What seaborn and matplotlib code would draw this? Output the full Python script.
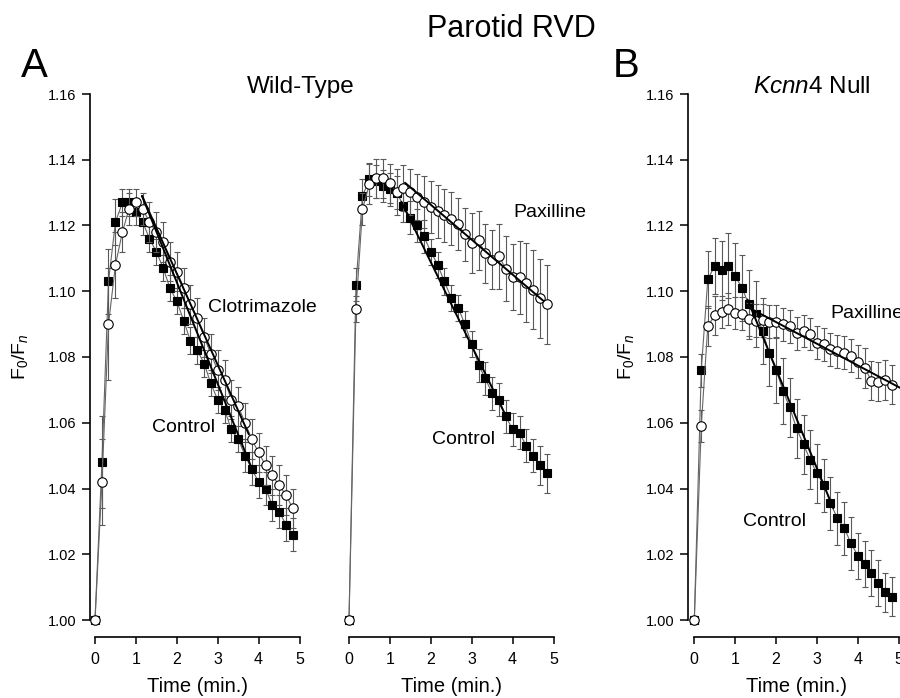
import numpy as np
import pandas as pd
import seaborn as sns
import matplotlib.pyplot as plt

# time points (min), one every 10 s
time_min = [0.00, 0.17, 0.33, 0.50, 0.67, 0.83, 1.00, 1.17, 1.33, 1.50,
            1.67, 1.83, 2.00, 2.17, 2.33, 2.50, 2.67, 2.83, 3.00, 3.17,
            3.33, 3.50, 3.67, 3.83, 4.00, 4.17, 4.33, 4.50, 4.67, 4.83]

# panel A, left: wild-type control vs clotrimazole
wt_ctrl1 = [1.000, 1.048, 1.103, 1.121, 1.127, 1.127, 1.124, 1.121, 1.116, 1.112,
            1.107, 1.101, 1.097, 1.091, 1.085, 1.082, 1.078, 1.072, 1.067, 1.064,
            1.058, 1.055, 1.050, 1.046, 1.042, 1.040, 1.035, 1.033, 1.029, 1.026]
wt_ctrl1_err = [0, 0.014, 0.010, 0.007, 0.004, 0.004, 0.004, 0.004, 0.004, 0.004,
                0.004, 0.004, 0.004, 0.004, 0.004, 0.004, 0.004, 0.004, 0.004, 0.004,
                0.004, 0.004, 0.005, 0.005, 0.005, 0.005, 0.005, 0.005, 0.005, 0.005]
wt_clot = [1.000, 1.042, 1.090, 1.108, 1.118, 1.125, 1.127, 1.125, 1.121, 1.118,
           1.115, 1.109, 1.106, 1.101, 1.096, 1.092, 1.086, 1.081, 1.076, 1.073,
           1.067, 1.065, 1.060, 1.055, 1.051, 1.047, 1.044, 1.041, 1.038, 1.034]
wt_clot_err = [0, 0.013, 0.017, 0.010, 0.006, 0.005, 0.004, 0.005, 0.006, 0.006,
               0.006, 0.006, 0.006, 0.006, 0.006, 0.006, 0.006, 0.006, 0.006, 0.006,
               0.006, 0.006, 0.006, 0.006, 0.006, 0.006, 0.006, 0.006, 0.006, 0.006]
fit_ctrl1 = ([1.15, 3.83], [1.129, 1.0462])
fit_clot = ([1.15, 3.76], [1.129, 1.0565])

# panel A, right: wild-type control vs paxilline
wt_ctrl2 = [1.000, 1.102, 1.129, 1.134, 1.1335, 1.132, 1.131, 1.130, 1.126, 1.1224,
            1.120, 1.1167, 1.112, 1.108, 1.103, 1.098, 1.095, 1.090, 1.084, 1.0775,
            1.0735, 1.069, 1.067, 1.062, 1.058, 1.057, 1.053, 1.050, 1.047, 1.0446]
wt_ctrl2_err = [0, 0.005, 0.005, 0.005, 0.005, 0.005, 0.005, 0.005, 0.005, 0.005,
                0.005, 0.005, 0.004, 0.004, 0.004, 0.004, 0.004, 0.004, 0.004, 0.005,
                0.005, 0.005, 0.005, 0.005, 0.005, 0.005, 0.005, 0.005, 0.006, 0.006]
wt_pax = [1.000, 1.0945, 1.125, 1.1326, 1.1343, 1.1343, 1.1328, 1.1302, 1.1315, 1.1302,
          1.1287, 1.1272, 1.1256, 1.1243, 1.1231, 1.1221, 1.1204, 1.1173, 1.1147, 1.1155,
          1.1115, 1.1096, 1.1106, 1.1069, 1.1044, 1.1042, 1.1026, 1.1005, 1.0978, 1.0961]
wt_pax_err = [0, 0.004, 0.005, 0.006, 0.006, 0.006, 0.006, 0.007, 0.007, 0.007,
              0.007, 0.008, 0.008, 0.008, 0.008, 0.008, 0.008, 0.008, 0.009, 0.009,
              0.009, 0.009, 0.010, 0.010, 0.010, 0.011, 0.012, 0.012, 0.012, 0.012]
fit_ctrl2 = ([1.28, 3.80], [1.1272, 1.063])
fit_pax = ([1.37, 4.76], [1.133, 1.097])

# panel B: Kcnn4 null control vs paxilline
ko_ctrl = [1.000, 1.076, 1.1036, 1.1078, 1.1064, 1.1078, 1.1046, 1.101, 1.096, 1.093,
           1.088, 1.0811, 1.076, 1.0697, 1.0647, 1.0583, 1.0534, 1.0488, 1.0446, 1.041,
           1.0355, 1.0309, 1.0279, 1.0233, 1.0196, 1.017, 1.0142, 1.0112, 1.0084, 1.0071]
ko_ctrl_err = [0, 0.005, 0.0087, 0.0085, 0.009, 0.010, 0.010, 0.010, 0.0105, 0.010,
               0.010, 0.010, 0.010, 0.010, 0.009, 0.009, 0.009, 0.009, 0.009, 0.008,
               0.008, 0.008, 0.008, 0.008, 0.007, 0.007, 0.007, 0.007, 0.006, 0.006]
ko_pax = [1.000, 1.059, 1.0894, 1.0927, 1.0937, 1.0946, 1.0934, 1.0932, 1.0915, 1.091,
          1.0912, 1.0907, 1.0907, 1.090, 1.0894, 1.0872, 1.0879, 1.087, 1.0843, 1.0839,
          1.0824, 1.0818, 1.0813, 1.0804, 1.0786, 1.0766, 1.0728, 1.0725, 1.073, 1.0716]
ko_pax_err = [0, 0.005, 0.006, 0.006, 0.005, 0.005, 0.005, 0.005, 0.005, 0.005,
              0.005, 0.005, 0.005, 0.005, 0.005, 0.005, 0.005, 0.005, 0.005, 0.005,
              0.005, 0.005, 0.005, 0.005, 0.005, 0.006, 0.006, 0.006, 0.006, 0.006]
fit_ko_ctrl = ([1.30, 3.40], [1.0975, 1.034])
fit_ko_pax = ([1.29, 5.05], [1.0953, 1.0705])

y_ticks = [1.00, 1.02, 1.04, 1.06, 1.08, 1.10, 1.12, 1.14, 1.16]
x_ticks = [0, 1, 2, 3, 4, 5]

sns.set_style("ticks")
plt.rcParams['font.family'] = ['Liberation Sans', 'DejaVu Sans']
plt.rcParams['mathtext.fontset'] = 'custom'
plt.rcParams['mathtext.rm'] = 'Liberation Sans'
plt.rcParams['mathtext.it'] = 'Liberation Sans:italic'
plt.rcParams['text.color'] = 'black'
plt.rcParams['axes.labelcolor'] = 'black'
plt.rcParams['axes.edgecolor'] = 'black'
plt.rcParams['xtick.color'] = 'black'
plt.rcParams['ytick.color'] = 'black'

W, H = 900, 698
fig = plt.figure(figsize=(W / 100, H / 100), dpi=100)

PX_MIN = 40.9          # pixels per minute
PX_UNIT = 65.75 / 0.02  # pixels per F0/Fn unit
Y1_PX = 620             # pixel row of 1.00
YMIN, YMAX = 1 - 17 / PX_UNIT, 1.165


def make_axes(x0_px, xmin, xmax=5.15):
    left = x0_px + xmin * PX_MIN
    right = x0_px + xmax * PX_MIN
    top = Y1_PX - (YMAX - 1) * PX_UNIT
    bottom = Y1_PX - (YMIN - 1) * PX_UNIT
    ax = fig.add_axes([left / W, 1 - bottom / H, (right - left) / W, (bottom - top) / H])
    ax.set_xlim(xmin, xmax)
    ax.set_ylim(YMIN, YMAX)
    return ax


def ftext(x, y, s, **kw):
    fig.text(x / W, 1 - y / H, s, color='black', **kw)


def draw_series(ax, y, err, marker, face, z):
    df = pd.DataFrame({'t': time_min, 'v': y})
    ax.errorbar(time_min, y, yerr=err, fmt='none', ecolor='0.35', elinewidth=0.8,
                capsize=2.5, capthick=0.8, zorder=z)
    sns.lineplot(data=df, x='t', y='v', ax=ax, color='0.4', lw=0.8, marker=marker,
                 markersize=6.8 if marker == 'o' else 6.3, markerfacecolor=face,
                 markeredgecolor='black', markeredgewidth=0.8, estimator=None,
                 zorder=z + 1, clip_on=False)


def draw_fit(ax, fit):
    sns.lineplot(x=fit[0], y=fit[1], ax=ax, color='black', lw=1.4, zorder=10,
                 estimator=None, clip_on=False)


def style_axes(ax, show_y):
    ax.set_xticks(x_ticks)
    ax.set_xticklabels([str(v) for v in x_ticks], fontsize=11.5)
    ax.spines['bottom'].set_bounds(0, 5)
    ax.spines['bottom'].set_linewidth(1.2)
    ax.spines['top'].set_visible(False)
    ax.spines['right'].set_visible(False)
    ax.tick_params(axis='x', length=5, width=1.1, pad=6, colors='black')
    ax.set_xlabel('Time (min.)', fontsize=14.5, labelpad=7, color='black')
    ax.set_ylabel('')
    if show_y:
        ax.set_yticks(y_ticks)
        ax.set_yticklabels([f'{v:.2f}' for v in y_ticks], fontsize=10.5)
        ax.spines['left'].set_bounds(1.0, 1.16)
        ax.spines['left'].set_linewidth(1.2)
        ax.tick_params(axis='y', length=6, width=1.1, pad=4, colors='black')
    else:
        ax.set_yticks([])
        ax.spines['left'].set_visible(False)


# panel A left
ax1 = make_axes(95, -0.122)
draw_series(ax1, wt_ctrl1, wt_ctrl1_err, 's', 'black', 2)
draw_series(ax1, wt_clot, wt_clot_err, 'o', 'white', 4)
draw_fit(ax1, fit_ctrl1)
draw_fit(ax1, fit_clot)
style_axes(ax1, True)

# panel A right
ax2 = make_axes(349, -0.122)
draw_series(ax2, wt_ctrl2, wt_ctrl2_err, 's', 'black', 2)
draw_series(ax2, wt_pax, wt_pax_err, 'o', 'white', 4)
draw_fit(ax2, fit_ctrl2)
draw_fit(ax2, fit_pax)
style_axes(ax2, False)

# panel B
ax3 = make_axes(694.3, -0.154)
draw_series(ax3, ko_ctrl, ko_ctrl_err, 's', 'black', 2)
draw_series(ax3, ko_pax, ko_pax_err, 'o', 'white', 4)
draw_fit(ax3, fit_ko_ctrl)
draw_fit(ax3, fit_ko_pax)
style_axes(ax3, True)

# titles and labels
ftext(511, 37, 'Parotid RVD', fontsize=22, ha='center', va='baseline')
ftext(21, 77, 'A', fontsize=29, ha='left', va='baseline')
ftext(613, 77, 'B', fontsize=29, ha='left', va='baseline')
ftext(301, 93, 'Wild-Type', fontsize=17.5, ha='center', va='baseline')
ftext(812, 93, r'$\it{Kcnn4}$ Null', fontsize=17.5, ha='center', va='baseline')
for xp in (20, 626):
    ftext(xp, 357, r'F$_0$/F$_n$', fontsize=14, rotation=90, ha='center', va='center')

ftext(208, 308, 'Clotrimazole', fontsize=14, ha='left', va='center')
ftext(152, 427, 'Control', fontsize=14, ha='left', va='center')
ftext(513, 212, 'Paxilline', fontsize=14, ha='left', va='center')
ftext(432, 440, 'Control', fontsize=14, ha='left', va='center')
ftext(830, 313, 'Paxilline', fontsize=14, ha='left', va='center')
ftext(743, 522, 'Control', fontsize=14, ha='left', va='center')

fig.savefig('out.png', dpi=100)
